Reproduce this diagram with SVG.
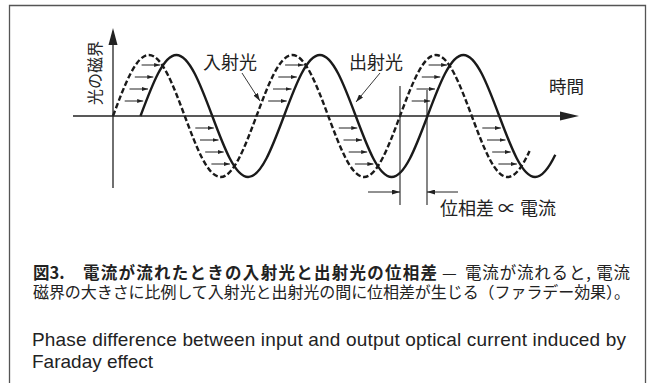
<svg xmlns="http://www.w3.org/2000/svg" width="654" height="383" viewBox="0 0 654 383">
<defs>
<style>
.ln{stroke:#222;fill:none}
.ax{stroke:#222;stroke-width:1.3;fill:none}
.wave{stroke:#1a1a1a;stroke-width:2.4;fill:none;stroke-linecap:butt}
.dash{stroke-dasharray:5.5 2.6}
.sa{stroke:#222;stroke-width:1;marker-end:url(#sah)}
.jp{font-family:"Noto Sans CJK JP","Noto Sans CJK SC",sans-serif;fill:#222}
.en{font-family:"Liberation Sans",Arial,sans-serif;fill:#222}
</style>
<marker id="sah" viewBox="0 0 6 4" refX="6" refY="2" markerWidth="6" markerHeight="4" markerUnits="userSpaceOnUse" orient="auto"><path d="M0,0 L6,2 L0,4 z" fill="#222"/></marker>
<marker id="ah" viewBox="0 0 8 5" refX="8" refY="2.5" markerWidth="8" markerHeight="5" markerUnits="userSpaceOnUse" orient="auto"><path d="M0,0 L8,2.5 L0,5 z" fill="#222"/></marker>
</defs>
<rect width="654" height="383" fill="#fff"/>
<path d="M9.5,383 V5.5 H645.5 V383" fill="none" stroke="#555" stroke-width="1.3"/>

<g id="waves">
<path id="input-wave" class="wave dash" d="M113,116 c11.70,-31.25 22.89,-61 35.875,-61 c12.985,0 24.175,29.75 35.875,61 c11.70,31.25 22.89,61 35.875,61 c12.985,0 24.175,-29.75 35.875,-61 c11.70,-31.25 22.89,-61 35.875,-61 c12.985,0 24.175,29.75 35.875,61 c11.70,31.25 22.89,61 35.875,61 c12.985,0 24.175,-29.75 35.875,-61 c11.70,-31.25 22.89,-61 35.875,-61 c12.985,0 24.175,29.75 35.875,61 c11.70,31.25 22.89,61 35.875,61 c7.79,0 14.93,-10.71 21.94,-26.03"/>
<path id="output-wave" class="wave" d="M140.5,116 c11.70,-31.25 22.89,-61 35.875,-61 c12.985,0 24.175,29.75 35.875,61 c11.70,31.25 22.89,61 35.875,61 c12.985,0 24.175,-29.75 35.875,-61 c11.70,-31.25 22.89,-61 35.875,-61 c12.985,0 24.175,29.75 35.875,61 c11.70,31.25 22.89,61 35.875,61 c12.985,0 24.175,-29.75 35.875,-61 c11.70,-31.25 22.89,-61 35.875,-61 c12.985,0 24.175,29.75 35.875,61 c11.70,31.25 22.89,61 35.875,61 c7.14,0 13.74,-9.0 20.18,-22.3"/>
</g>

<g id="connectors">
<line class="ax" x1="113" y1="188" x2="113" y2="42"/>
<polygon points="113,28 108.5,45 117.5,45" fill="#222"/>
<line class="ax" x1="73" y1="116" x2="562" y2="116"/>
<polygon points="579,116 560,111.5 560,120.5" fill="#222"/>

<line class="sa" x1="141.6" y1="65" x2="160.1" y2="65"/>
<line class="sa" x1="134.8" y1="77" x2="153.3" y2="77"/>
<line class="sa" x1="129.5" y1="89" x2="148" y2="89"/>
<line class="sa" x1="124.7" y1="101" x2="143.2" y2="101"/>
<line class="sa" x1="195.3" y1="128" x2="213.8" y2="128"/>
<line class="sa" x1="200" y1="140" x2="218.5" y2="140"/>
<line class="sa" x1="205.2" y1="152" x2="223.7" y2="152"/>
<line class="sa" x1="211.4" y1="164" x2="229.9" y2="164"/>
<line class="sa" x1="285.1" y1="65" x2="303.6" y2="65"/>
<line class="sa" x1="278.3" y1="77" x2="296.8" y2="77"/>
<line class="sa" x1="273" y1="89" x2="291.5" y2="89"/>
<line class="sa" x1="268.2" y1="101" x2="286.7" y2="101"/>
<line class="sa" x1="338.8" y1="128" x2="357.3" y2="128"/>
<line class="sa" x1="343.5" y1="140" x2="362" y2="140"/>
<line class="sa" x1="348.7" y1="152" x2="367.2" y2="152"/>
<line class="sa" x1="354.9" y1="164" x2="373.4" y2="164"/>
<line class="sa" x1="428.6" y1="65" x2="447.1" y2="65"/>
<line class="sa" x1="421.8" y1="77" x2="440.3" y2="77"/>
<line class="sa" x1="416.5" y1="89" x2="435" y2="89"/>
<line class="sa" x1="411.7" y1="101" x2="430.2" y2="101"/>
<line class="sa" x1="482.3" y1="128" x2="500.8" y2="128"/>
<line class="sa" x1="487" y1="140" x2="505.5" y2="140"/>
<line class="sa" x1="492.2" y1="152" x2="510.7" y2="152"/>
<line class="sa" x1="498.4" y1="164" x2="516.9" y2="164"/>

<line class="ln" stroke-width="0.9" x1="242" y1="73" x2="260" y2="101" marker-end="url(#ah)"/>
<line class="ln" stroke-width="0.9" x1="380" y1="73" x2="356" y2="102" marker-end="url(#ah)"/>

<line class="ln" stroke-width="1.1" x1="400" y1="86" x2="400" y2="205"/>
<line class="ln" stroke-width="1.1" x1="427" y1="90" x2="427" y2="205"/>
<line class="ln" stroke-width="1" x1="368" y1="192" x2="400" y2="192" marker-end="url(#ah)"/>
<line class="ln" stroke-width="1" x1="458" y1="192" x2="427" y2="192" marker-end="url(#ah)"/>
</g>

<g id="label-axis-y"><text class="jp" font-size="16" transform="translate(101,105) rotate(-90)">光の磁界</text></g>
<g id="label-axis-x"><text class="jp" x="549" y="93" font-size="17.5">時間</text></g>
<g id="label-input"><text class="jp" x="203" y="69" font-size="18">入射光</text></g>
<g id="label-output"><text class="jp" x="349" y="69" font-size="18">出射光</text></g>
<g id="label-phase"><text class="jp" x="440" y="215" font-size="18">位相差 ∝ 電流</text></g>

<g id="caption">
<text class="jp" font-size="16.5"><tspan x="33" y="279" font-weight="bold">図3.</tspan><tspan x="83" y="279" font-weight="bold" textLength="354" lengthAdjust="spacing">電流が流れたときの入射光と出射光の位相差</tspan><tspan x="442" y="279">—</tspan><tspan x="465" y="279" textLength="165" lengthAdjust="spacing">電流が流れると, 電流</tspan></text>
<text class="jp" font-size="16"><tspan x="33" y="298" textLength="597" lengthAdjust="spacing">磁界の大きさに比例して入射光と出射光の間に位相差が生じる（ファラデー効果）。</tspan></text>
<text class="en" font-size="19"><tspan x="32" y="346" textLength="594" lengthAdjust="spacing">Phase difference between input and output optical current induced by</tspan><tspan x="32" y="368">Faraday effect</tspan></text>
</g>
</svg>
